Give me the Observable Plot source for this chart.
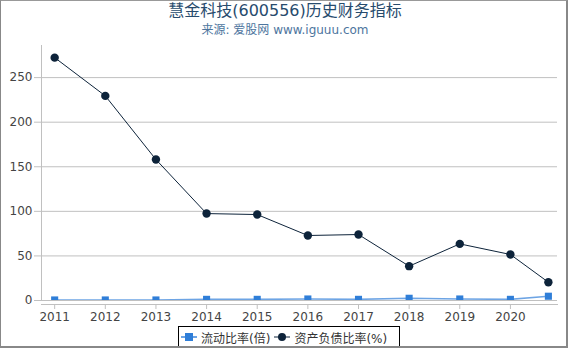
<!DOCTYPE html>
<html>
<head>
<meta charset="utf-8">
<script src="https://cdn.jsdelivr.net/npm/d3@7"></script>
<script src="https://cdn.jsdelivr.net/npm/@observablehq/plot@0.6"></script>
<style>
  html, body { margin: 0; padding: 0; background: #fff; }
  #wrap { position: relative; width: 570px; height: 350px; overflow: hidden;
          font-family: "DejaVu Sans", "Noto Sans CJK SC", sans-serif; }
  #border { position: absolute; left: 0; top: 0; width: 568px; height: 348px; box-sizing: border-box;
            border-left: 1px solid #888; border-top: 1px solid #999; border-right: 2px solid #888; border-bottom: 2px solid #888; pointer-events: none; }
  #title { position: absolute; top: 1px; left: 0; width: 570px; text-align: center; font-size: 16px; color: #274b6d; line-height: 20px; }
  #subtitle { position: absolute; top: 22px; left: 0; width: 570px; text-align: center; font-size: 12px; color: #4d759e; line-height: 16px; }
  #chart { position: absolute; left: 0; top: 0; }
  #legend { position: absolute; left: 178px; top: 326px; width: 222px; height: 22px; box-sizing: border-box;
            border: 1px solid #000; display: flex; align-items: center; font-size: 12px; color: #333; padding-left: 2px; }
  .item { display: flex; align-items: center; margin-right: 4px; }
  .item svg { margin-right: 4px; }
</style>
</head>
<body>
<div id="wrap">
  <div id="chart"></div>
  <div id="title"></div>
  <div id="subtitle"></div>
  <div id="legend"></div>
  <div id="border"></div>
</div>
<script>
const titleText = "慧金科技(600556)历史财务指标";
const subtitleText = "来源: 爱股网 www.iguuu.com";
const periods = [2011, 2012, 2013, 2014, 2015, 2016, 2017, 2018, 2019, 2020, 2020.75];
const currentRatio = [0.6, 0.6, 0.6, 1.3, 1.3, 1.7, 1.3, 2.5, 1.7, 1.3, 4.8];
const debtRatio = [272.4, 229.5, 158.1, 97.5, 96.4, 72.9, 74.0, 38.5, 63.5, 51.6, 20.5];
const xTicks = [2011, 2012, 2013, 2014, 2015, 2016, 2017, 2018, 2019, 2020];
const yTicks = [0, 50, 100, 150, 200, 250];
const seriesNames = ["流动比率(倍)", "资产负债比率(%)"];
const colors = ["#2f7ed8", "#0d233a"];

document.getElementById("title").textContent = titleText;
document.getElementById("subtitle").textContent = subtitleText;

const cr = periods.map((p, i) => ({x: p, y: currentRatio[i]}));
const dr = periods.map((p, i) => ({x: p, y: debtRatio[i]}));

const chart = Plot.plot({
  width: 570,
  height: 320,
  marginTop: 45,
  marginLeft: 41,
  marginRight: 13,
  marginBottom: 20,
  style: {fontFamily: "DejaVu Sans, Noto Sans CJK SC, sans-serif", fontSize: "12px", background: "transparent", overflow: "visible"},
  x: {domain: [2010.74, 2020.93]},
  y: {domain: [0, 286]},
  marks: [
    Plot.gridY(yTicks, {stroke: "#c0c0c0", strokeOpacity: 1}),
    Plot.axisY(yTicks, {tickSize: 7, tickPadding: 2, stroke: "#c0c0c0", fill: "#444", fontSize: 12, label: null}),
    Plot.frame({anchor: "left", stroke: "#c0c0c0", strokeOpacity: 1}),
    Plot.frame({anchor: "bottom", stroke: "#c0c0c0", strokeOpacity: 1, dy: 4}),
    Plot.axisX(xTicks, {tickSize: 5, tickPadding: 3, dy: 4, stroke: "#c0c0c0", fill: "#444", fontSize: 12, tickFormat: d => String(d), label: null}),
    Plot.line(cr, {x: "x", y: "y", stroke: colors[0], strokeWidth: 1.6, strokeOpacity: 0.7, clip: true}),
    Plot.dot(cr, {x: "x", y: "y", symbol: "square", r: 4, fill: colors[0], clip: true}),
    Plot.line(dr, {x: "x", y: "y", stroke: colors[1], strokeWidth: 1}),
    Plot.dot(dr, {x: "x", y: "y", symbol: "circle", r: 4.2, fill: colors[1]})
  ]
});
document.getElementById("chart").appendChild(chart);

const legend = document.getElementById("legend");
seriesNames.forEach((name, i) => {
  const item = document.createElement("div");
  item.className = "item";
  const marker = i === 0
    ? `<rect x="4" y="3" width="8" height="8" fill="${colors[0]}"/>`
    : `<circle cx="8" cy="7" r="4" fill="${colors[1]}"/>`;
  item.innerHTML = `<svg width="16" height="14"><line x1="0" x2="16" y1="7" y2="7" stroke="${colors[i]}" stroke-width="${i === 0 ? 2 : 1}" stroke-opacity="${i === 0 ? 0.7 : 1}"/>${marker}</svg><span>${name}</span>`;
  legend.appendChild(item);
});
</script>
</body>
</html>
